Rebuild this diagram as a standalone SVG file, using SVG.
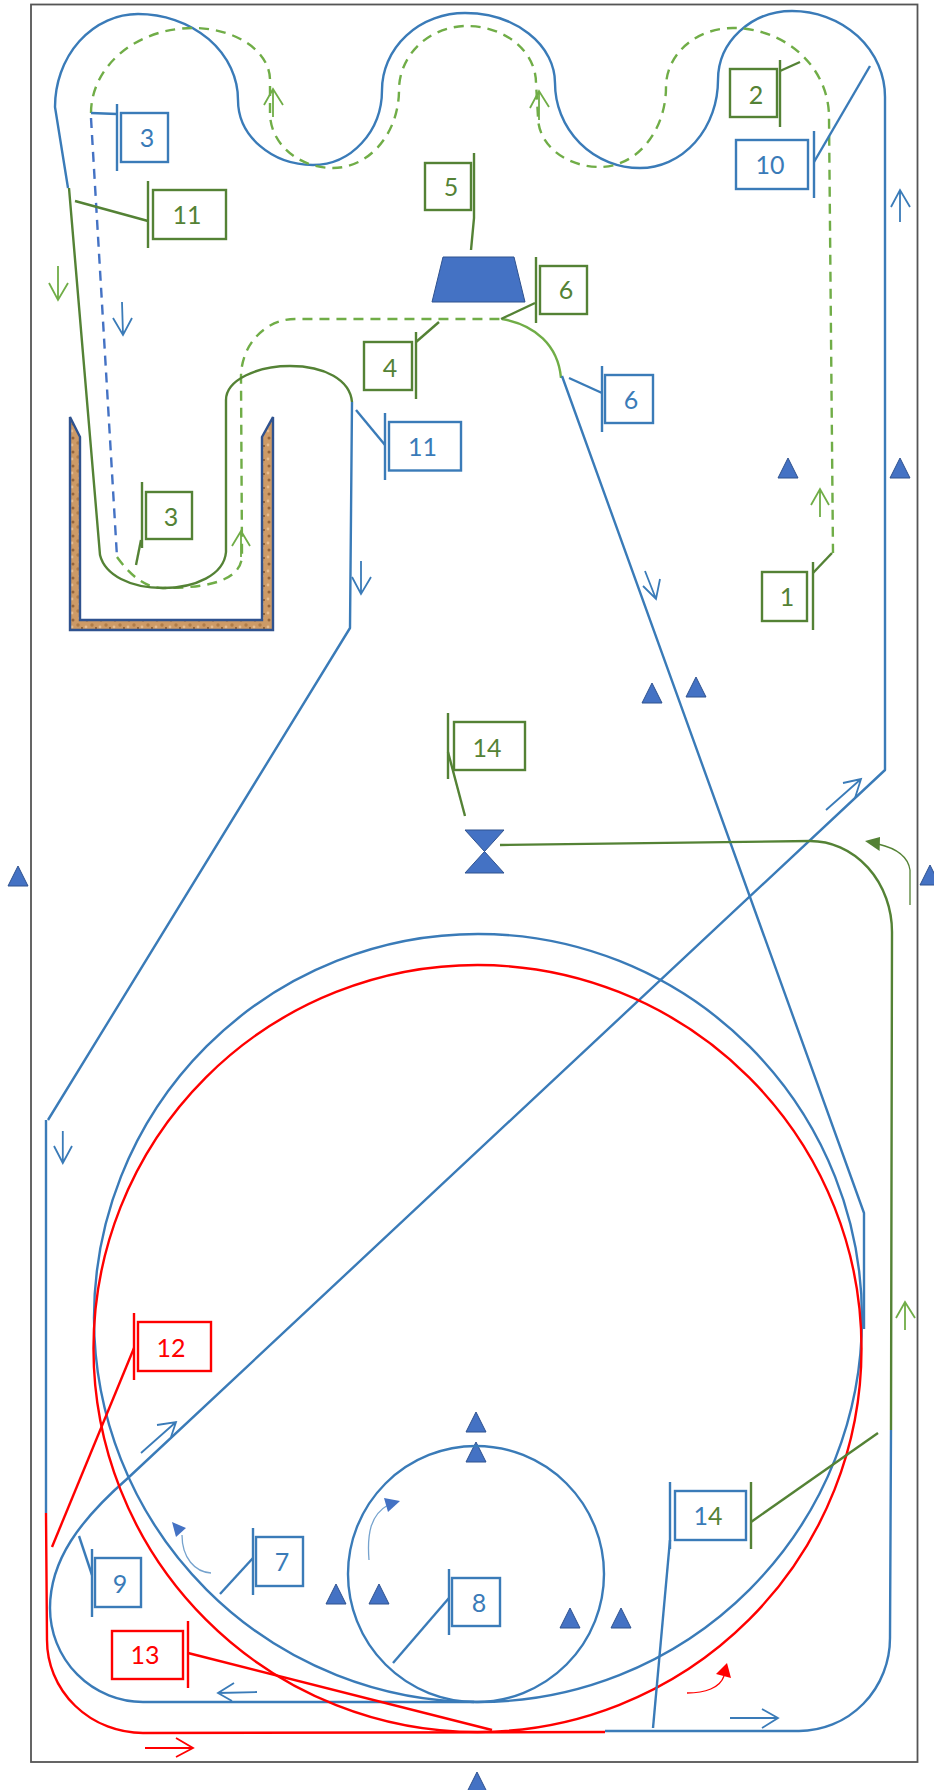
<svg xmlns="http://www.w3.org/2000/svg" width="934" height="1790" viewBox="0 0 934 1790">
<style>
.l{fill:none;stroke-width:2.4;stroke-linejoin:round}
.b{stroke:#3A7BB8}.g{stroke:#548235}.lg{stroke:#70AD47}.r{stroke:#FF0000}
.da{stroke-dasharray:10 7}
.a{fill:none;stroke-width:1.8}
.box{fill:#fff;stroke-width:2.4}
.t{font-family:"Lato","Open Sans",sans-serif;font-size:25px;text-anchor:middle}
.tb{fill:#3A7BB8}.tg{fill:#548235}.tr{fill:#FF0000}
.tri{fill:#4472C4;stroke:#2F528F;stroke-width:1}
.thin{fill:none;stroke-width:1.3}
</style>
<defs>
<pattern id="cork" width="14" height="14" patternUnits="userSpaceOnUse">
<rect width="14" height="14" fill="#CD9A66"/>
<circle cx="3" cy="4" r="1.5" fill="#96653A"/>
<circle cx="10" cy="2" r="1.6" fill="#E6BC8E"/>
<circle cx="8" cy="9" r="1.7" fill="#B07C48"/>
<circle cx="2" cy="11" r="1.4" fill="#E6BC8E"/>
<circle cx="12" cy="12" r="0.9" fill="#7A4C24"/>
</pattern>
</defs>
<rect width="934" height="1790" fill="#fff"/>
<rect id="frame" x="31" y="4.500" width="886.500" height="1757.500" fill="none" stroke="#555" stroke-width="1.8"/>

<g id="tank"><path d="M70,417 L70,630 L273,630 L273,417 L262,437 L262,620 L80,620 L80,437 Z" fill="url(#cork)" stroke="#2F528F" stroke-width="2.4"/></g>
<g id="trapezoid"><path d="M432,302 L443,257 L514,257 L525,302 Z" class="tri"/></g>
<g id="valve"><path d="M465,830 L504,830 L465,873 L504,873 Z" class="tri"/></g>
<g id="markers">
<path class="tri" d="M336,1584 l10,20 h-20 z"/>
<path class="tri" d="M379,1584 l10,20 h-20 z"/>
<path class="tri" d="M476,1412 l10,20 h-20 z"/>
<path class="tri" d="M476,1442 l10,20 h-20 z"/>
<path class="tri" d="M570,1608 l10,20 h-20 z"/>
<path class="tri" d="M621,1608 l10,20 h-20 z"/>
<path class="tri" d="M477,1772 l10,20 h-20 z"/>
<path class="tri" d="M652,683 l10,20 h-20 z"/>
<path class="tri" d="M696,677 l10,20 h-20 z"/>
<path class="tri" d="M930,865 l10,20 h-20 z"/>
<path class="tri" d="M18,866 l10,20 h-20 z"/>
<path class="tri" d="M788,458 l10,20 h-20 z"/>
<path class="tri" d="M900,458 l10,20 h-20 z"/>
</g>

<g id="connectors">
<path class="l b" d="M68,188 L55,107 A83,93 0 0 1 138,14 A100,86 0 0 1 238,100 A75,65 0 0 0 313,165 A69,75 0 0 0 382,90 A83,77 0 0 1 465,13 A90,70 0 0 1 555,83 A85,85 0 0 0 640,168 A78,88 0 0 0 718,80 A74,69 0 0 1 792,11 A93,86 0 0 1 885,97 L885,770 L128,1478 C80,1520 50,1560 50,1608 A93,94 0 0 0 143,1702 L474,1702"/>
<path class="l lg da" d="M91,113 A102,85 0 0 1 193,28 A77,52 0 0 1 270,80 L270,113 A63,55 0 0 0 333,168 A66,78 0 0 0 399,90 A68,64 0 0 1 467,26 A69,57 0 0 1 536,83 L538,117 A62,50 0 0 0 600,167 A66,80 0 0 0 666,87 A67,59 0 0 1 733,28 A96,89 0 0 1 829,117 L833,553"/>
<path class="l" stroke="#4472C4" stroke-dasharray="10 7" d="M91,118 L117,557"/>
<path class="l lg da" d="M117,557 C130,575 145,588 163,588 C195,588 242,585 242,555 L241,377 A54,58 0 0 1 295,319 L502,319"/>
<path class="l g" d="M69,188 L100,555 C105,575 130,588 163,588 C195,588 224,575 226,552 L226,400 C226,380 257,366 290,366 C325,366 350,380 352,402"/>
<path class="l lg" d="M502,319 C535,325 558,345 561,378"/>
<path class="l b" d="M562,376 L864,1213 L864,1329"/>
<path class="l b" d="M352,402 L350,628 L48,1120"/>
<path class="l b" d="M46,1120 L46,1513"/>
<path class="l r" d="M46,1513 L47,1640 A96,93 0 0 0 143,1733 L605,1732"/>
<path class="l b" d="M605,1731 L799,1731 A91,93 0 0 0 890,1638 L891,1430"/>
<path class="l g" d="M891,1430 L892,932 A82,91 0 0 0 810,841 L500,845"/>
<ellipse class="l b" cx="478" cy="1318" rx="384" ry="384"/>
<circle class="l b" cx="476" cy="1574" r="128"/>
<ellipse class="l r" cx="477.500" cy="1348.500" rx="384" ry="383.500"/>

<path class="l b" d="M91,113 L117,114"/>
<path class="l g" d="M75,201 L148,221"/>
<path class="l g" d="M474,218 L471,250"/>
<path class="l g" d="M535,303 L501,319"/>
<path class="l b" d="M569,378 L602,393"/>
<path class="l g" d="M780,71 L800,62"/>
<path class="l b" d="M814,162 L870,66"/>
<path class="l g" d="M416,342 L439,322"/>
<path class="l b" d="M356,410 L385,445"/>
<path class="l g" d="M141,540 L136,565"/>
<path class="l g" d="M813,573 L832,553"/>
<path class="l g" d="M448,752 L465,816"/>
<path class="l r" d="M134,1348 L52,1547"/>
<path class="l b" d="M253,1558 L220,1594"/>
<path class="l b" d="M92,1575 L79,1536"/>
<path class="l r" d="M188,1653 L492,1730"/>
<path class="l b" d="M449,1598 L393,1663"/>
<path class="l b" d="M670,1540 L653,1728"/>
<path class="l g" d="M751,1522 L878,1433"/>

<path class="a lg" d="M273,117 V89 M264,105 L273,89 L283,105"/>
<path class="a lg" d="M539,120 V91 M530,108 L539,91 L549,107"/>
<path class="a lg" d="M58,266 V300 M49,283 L58,300 L68,283"/>
<path class="a b" d="M122,302 L123,335 M113,318 L123,335 L132,318"/>
<path class="a b" d="M900,222 V190 M891,207 L900,190 L910,207"/>
<path class="a lg" d="M241,557 V531 M232,546 L241,531 L250,546"/>
<path class="a lg" d="M820,517 V489 M811,505 L820,489 L829,505"/>
<path class="a b" d="M361,561 V594 M352,577 L361,594 L371,577"/>
<path class="a b" d="M645,571 L656,599 M643,586 L656,599 L660,579"/>
<path class="a b" d="M826,810 L861,779 M843,783 L861,779 L855,798"/>
<path class="a b" d="M62.800,1131 V1163 M54,1146 L62.800,1163 L72,1146"/>
<path class="a lg" d="M905,1330 V1302 M896,1318 L905,1302 L915,1318"/>
<path class="a b" d="M141,1453 L176,1422 M157,1425 L176,1422 L171,1437"/>
<path class="a b" d="M257,1692 L218,1693 M234,1683 L218,1693 L232,1701"/>
<path class="a r" d="M145,1748 H193 M176,1738 L193,1748 L176,1757"/>
<path class="a b" d="M730,1718 H778 M762,1709 L778,1718 L762,1728"/>

<path class="thin g" d="M910,905 V870 C908,856 895,848 878,844"/>
<path d="M865,841 L880,837 L879.600,851 Z" fill="#548235"/>
<path class="thin b" stroke-opacity="0.7" d="M211,1573 C195,1572 182,1558 182,1535"/>
<path d="M172,1522 L186,1528 L176,1537 Z" fill="#4472C4"/>
<path class="thin b" stroke-opacity="0.7" d="M369,1560 C367,1535 370,1515 388,1505"/>
<path d="M400,1501 L384,1498 L388,1512 Z" fill="#4472C4"/>
<path class="thin r" d="M687,1693 C705,1693 720,1688 724,1676"/>
<path d="M727,1663 L716,1674 L731,1678 Z" fill="#FF0000"/>
</g>

<g id="n-blue-3"><rect class="box b" x="121" y="113" width="47" height="49"/><path class="l b" d="M117,104 V171"/><text class="t tb" x="147" y="147">3</text></g>
<g id="n-green-11"><rect class="box g" x="153" y="190" width="73" height="49"/><path class="l g" d="M148,181 V248"/><text class="t tg" x="187" y="223.500">11</text></g>
<g id="n-green-5"><rect class="box g" x="425" y="163" width="46" height="47"/><path class="l g" d="M474,153 V218"/><text class="t tg" x="451" y="195.500">5</text></g>
<g id="n-green-6"><rect class="box g" x="540" y="266" width="47" height="48"/><path class="l g" d="M536,257 V323"/><text class="t tg" x="566" y="298.500">6</text></g>
<g id="n-blue-6"><rect class="box b" x="605" y="375" width="48" height="48"/><path class="l b" d="M602,366 V432"/><text class="t tb" x="631" y="408.500">6</text></g>
<g id="n-green-2"><rect class="box g" x="730" y="69" width="47" height="48"/><path class="l g" d="M780,60 V127"/><text class="t tg" x="756" y="103.500">2</text></g>
<g id="n-blue-10"><rect class="box b" x="736" y="140" width="72" height="49"/><path class="l b" d="M814,131 V198"/><text class="t tb" x="770" y="173.500">10</text></g>
<g id="n-green-4"><rect class="box g" x="364" y="342" width="48" height="48"/><path class="l g" d="M416,332 V399"/><text class="t tg" x="390" y="376.500">4</text></g>
<g id="n-blue-11"><rect class="box b" x="389" y="422" width="72" height="48.500"/><path class="l b" d="M385,413 V480"/><text class="t tb" x="422.500" y="455.500">11</text></g>
<g id="n-green-3"><rect class="box g" x="146" y="492" width="46" height="47"/><path class="l g" d="M142,482 V548"/><text class="t tg" x="171" y="525.500">3</text></g>
<g id="n-green-1"><rect class="box g" x="762" y="572" width="45" height="49"/><path class="l g" d="M813,562 V630"/><text class="t tg" x="787" y="605.500">1</text></g>
<g id="n-green-14"><rect class="box g" x="454" y="722" width="71" height="48"/><path class="l g" d="M448,713 V779"/><text class="t tg" x="487" y="756.500">14</text></g>
<g id="n-red-12"><rect class="box r" x="138" y="1322" width="73" height="49"/><path class="l r" d="M134,1313 V1380"/><text class="t tr" x="171" y="1356.500">12</text></g>
<g id="n-blue-7"><rect class="box b" x="256" y="1537" width="47" height="49"/><path class="l b" d="M253,1528 V1595"/><text class="t tb" x="282" y="1570.500">7</text></g>
<g id="n-blue-9"><rect class="box b" x="95" y="1558" width="46" height="49"/><path class="l b" d="M92,1549 V1617"/><text class="t tb" x="120" y="1592.500">9</text></g>
<g id="n-red-13"><rect class="box r" x="112" y="1631" width="71" height="48"/><path class="l r" d="M188,1621 V1688"/><text class="t tr" x="145" y="1663.500">13</text></g>
<g id="n-blue-8"><rect class="box b" x="452" y="1578" width="48" height="48"/><path class="l b" d="M449,1569 V1635"/><text class="t tb" x="479" y="1611.500">8</text></g>
<g id="n-blue-14"><rect class="box b" x="675" y="1491" width="71" height="49"/><path class="l b" d="M670,1482 V1549"/><path class="l g" d="M751,1482 V1549"/><text class="t" x="708" y="1524.500"><tspan class="tb">1</tspan><tspan class="tg">4</tspan></text></g>
</svg>
